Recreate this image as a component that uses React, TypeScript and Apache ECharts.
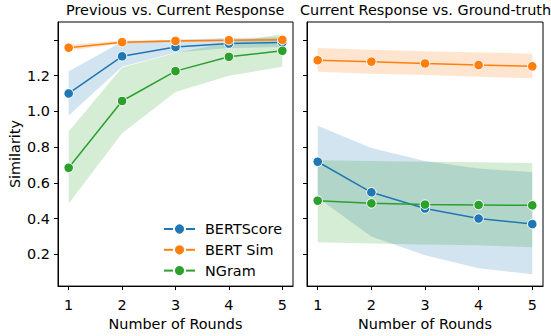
import React, { useEffect, useRef } from "react";
import * as echarts from "echarts";

const rounds = [1, 2, 3, 4, 5];
const xTicks = [1, 2, 3, 4, 5];
const yTicks = [0.2, 0.4, 0.6, 0.8, 1.0, 1.2, 1.4];
const yLabels = [0.2, 0.4, 0.6, 0.8, 1.0, 1.2];
const seriesNames = ["BERTScore", "BERT Sim", "NGram"];
const colors = ["#1f77b4", "#ff7f0e", "#2ca02c"];

// Previous vs. Current Response
const prevBertScore = [1.1, 1.308, 1.36, 1.379, 1.385];
const prevBertScoreLo = [0.977, 1.25, 1.33, 1.355, 1.36];
const prevBertScoreHi = [1.225, 1.389, 1.4, 1.41, 1.415];
const prevBertSim = [1.356, 1.387, 1.394, 1.398, 1.4];
const prevBertSimLo = [1.34, 1.378, 1.388, 1.392, 1.393];
const prevBertSimHi = [1.372, 1.396, 1.4, 1.404, 1.407];
const prevNGram = [0.684, 1.058, 1.225, 1.305, 1.339];
const prevNGramLo = [0.484, 0.877, 1.108, 1.199, 1.25];
const prevNGramHi = [0.887, 1.245, 1.327, 1.385, 1.432];

// Current Response vs. Ground-truth
const curBertScore = [0.718, 0.547, 0.456, 0.4, 0.369];
const curBertScoreLo = [0.516, 0.3, 0.195, 0.122, 0.089];
const curBertScoreHi = [0.92, 0.795, 0.722, 0.68, 0.659];
const curBertSim = [1.286, 1.278, 1.268, 1.259, 1.252];
const curBertSimLo = [1.221, 1.211, 1.203, 1.193, 1.185];
const curBertSimHi = [1.354, 1.345, 1.337, 1.33, 1.323];
const curNGram = [0.5, 0.485, 0.478, 0.476, 0.474];
const curNGramLo = [0.267, 0.26, 0.255, 0.25, 0.24];
const curNGramHi = [0.726, 0.722, 0.718, 0.715, 0.711];

const FONT = "DejaVu Sans";
const FS = 14.4;

function band(idx: number, lo: number[], hi: number[], color: string) {
  return {
    type: "custom",
    xAxisIndex: idx,
    yAxisIndex: idx,
    silent: true,
    z: 1,
    data: [[rounds[0], lo[0]]],
    renderItem: (_p: any, api: any) => {
      const pts: number[][] = [];
      rounds.forEach((r, i) => pts.push(api.coord([r, hi[i]])));
      for (let i = rounds.length - 1; i >= 0; i--) pts.push(api.coord([rounds[i], lo[i]]));
      return {
        type: "polygon",
        shape: { points: pts },
        style: { fill: color, opacity: 0.2 },
      };
    },
  };
}

function line(idx: number, name: string, vals: number[], color: string) {
  return {
    type: "line",
    name,
    xAxisIndex: idx,
    yAxisIndex: idx,
    z: 3,
    data: rounds.map((r, i) => [r, vals[i]]),
    symbol: "circle",
    symbolSize: 9.5,
    showSymbol: true,
    itemStyle: { color, borderColor: "#fff", borderWidth: 1 },
    lineStyle: { color, width: 1.5 },
  };
}

function xAxis(idx: number) {
  return {
    type: "value",
    gridIndex: idx,
    min: 0.8,
    max: 5.2,
    name: "Number of Rounds",
    nameLocation: "middle",
    nameGap: 30,
    nameTextStyle: { fontFamily: FONT, fontSize: FS, color: "#000" },
    axisLine: { show: true, lineStyle: { color: "#000", width: 1 } },
    axisTick: { show: true, length: 4, lineStyle: { color: "#000" }, customValues: xTicks },
    axisLabel: {
      show: true,
      customValues: xTicks,
      margin: 12,
      fontFamily: FONT,
      fontSize: FS,
      color: "#000",
      formatter: (v: number) => String(Math.round(v)),
    },
    splitLine: { show: false },
  };
}

function yAxis(idx: number, labels: boolean) {
  return {
    type: "value",
    gridIndex: idx,
    min: 0.022,
    max: 1.5,
    name: labels ? "Similarity" : "",
    nameLocation: "middle",
    nameGap: 36,
    nameRotate: 90,
    nameTextStyle: { fontFamily: FONT, fontSize: FS, color: "#000" },
    axisLine: { show: true, lineStyle: { color: "#000", width: 1 } },
    axisTick: { show: true, length: 4, lineStyle: { color: "#000" }, customValues: yTicks },
    axisLabel: {
      show: labels,
      customValues: yLabels,
      margin: 8,
      fontFamily: FONT,
      fontSize: FS,
      color: "#000",
      formatter: (v: number) => v.toFixed(1),
    },
    splitLine: { show: false },
  };
}

export default function App() {
  const ref = useRef<HTMLDivElement>(null);
  useEffect(() => {
    if (!ref.current) return;
    document.body.style.margin = "0";
    const chart = echarts.init(ref.current, null, { renderer: "svg" });
    chart.setOption({
      animation: false,
      backgroundColor: "#fff",
      textStyle: { fontFamily: FONT },
      title: [
        {
          text: "Previous vs. Current Response",
          left: 66,
          top: 3,
          padding: 0,
          textStyle: { fontFamily: FONT, fontSize: FS, fontWeight: "normal", color: "#000" },
        },
        {
          text: "Current Response vs. Ground-truth",
          left: 300,
          top: 3,
          padding: 0,
          textStyle: { fontFamily: FONT, fontSize: FS, fontWeight: "normal", color: "#000" },
        },
      ],
      grid: [
        { left: 58, width: 235, top: 22, height: 270, show: true, borderColor: "#000", borderWidth: 1, backgroundColor: "transparent" },
        { left: 307, width: 236, top: 22, height: 270, show: true, borderColor: "#000", borderWidth: 1, backgroundColor: "transparent" },
      ],
      legend: {
        data: seriesNames,
        orient: "vertical",
        left: 158,
        top: 217,
        itemWidth: 31,
        itemHeight: 14,
        itemGap: 6.8,
        textStyle: { fontFamily: FONT, fontSize: FS, color: "#000", padding: [0, 0, 0, 5] },
      },
      xAxis: [xAxis(0), xAxis(1)],
      yAxis: [yAxis(0, true), yAxis(1, false)],
      series: [
        band(0, prevBertScoreLo, prevBertScoreHi, colors[0]),
        band(0, prevBertSimLo, prevBertSimHi, colors[1]),
        band(0, prevNGramLo, prevNGramHi, colors[2]),
        band(1, curBertScoreLo, curBertScoreHi, colors[0]),
        band(1, curBertSimLo, curBertSimHi, colors[1]),
        band(1, curNGramLo, curNGramHi, colors[2]),
        line(0, seriesNames[0], prevBertScore, colors[0]),
        line(0, seriesNames[1], prevBertSim, colors[1]),
        line(0, seriesNames[2], prevNGram, colors[2]),
        line(1, seriesNames[0], curBertScore, colors[0]),
        line(1, seriesNames[1], curBertSim, colors[1]),
        line(1, seriesNames[2], curNGram, colors[2]),
      ],
    });
    return () => chart.dispose();
  }, []);
  return <div ref={ref} style={{ width: 551, height: 336 }} />;
}
